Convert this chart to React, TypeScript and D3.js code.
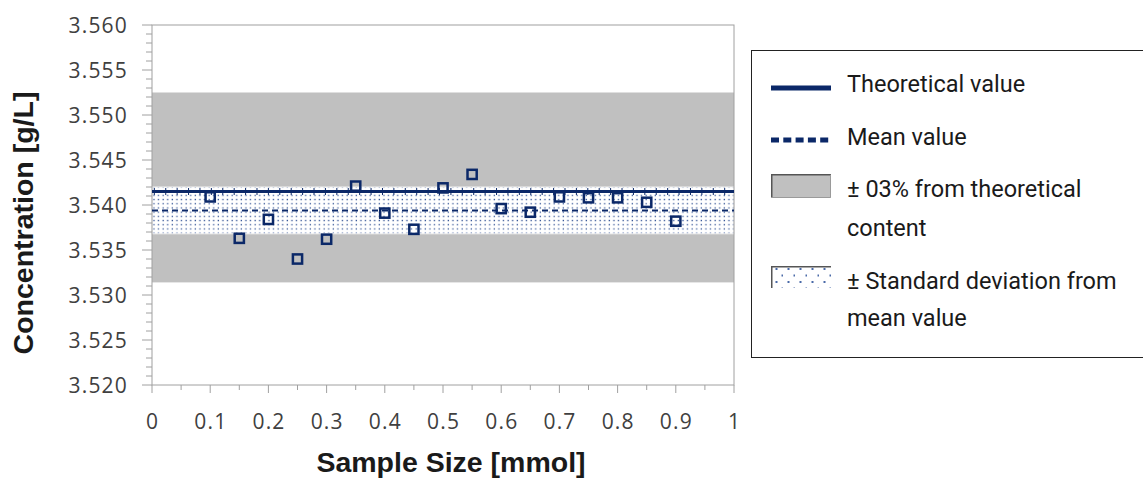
import React from "react";
import * as d3 from "d3";

// Measured sample sizes and the concentration found for each
const sampleSize = [0.1, 0.15, 0.2, 0.25, 0.3, 0.35, 0.4, 0.45, 0.5, 0.55, 0.6, 0.65, 0.7, 0.75, 0.8, 0.85, 0.9];
const concentration = [
  3.5409, 3.5363, 3.5384, 3.534, 3.5362, 3.5421, 3.5391, 3.5373, 3.5419,
  3.5434, 3.5396, 3.5392, 3.5409, 3.5408, 3.5408, 3.5403, 3.5382,
];

// Reference lines and bands [g/L]
const theoreticalValue = 3.5415;
const toleranceBand = [3.5314, 3.5525];
const meanValue = 3.5394;
const sdBand = [3.5368, 3.542];

const xTickValues = [0, 0.1, 0.2, 0.3, 0.4, 0.5, 0.6, 0.7, 0.8, 0.9, 1];
const xTickLabels = ["0", "0.1", "0.2", "0.3", "0.4", "0.5", "0.6", "0.7", "0.8", "0.9", "1"];
const yTickValues = [3.52, 3.525, 3.53, 3.535, 3.54, 3.545, 3.55, 3.555, 3.56];
const yTickLabels = ["3.520", "3.525", "3.530", "3.535", "3.540", "3.545", "3.550", "3.555", "3.560"];

const legendItems = [
  { kind: "solid", lines: ["Theoretical value"] },
  { kind: "dashed", lines: ["Mean value"] },
  { kind: "gray", lines: ["\u00b1 03% from theoretical", "content"] },
  { kind: "dotted", lines: ["\u00b1 Standard deviation from", "mean value"] },
];

const NAVY = "#0b2868";
const AXIS = "#a0a0a0";
const BAND = "#c0c0c0";

export default function App() {
  const W = 1143;
  const H = 479;
  const left = 152;
  const right = 734;
  const top = 25;
  const bottom = 385;

  const x = d3.scaleLinear().domain([0, 1]).range([left, right]);
  const y = d3.scaleLinear().domain([3.52, 3.56]).range([bottom, top]);

  const xMinor = d3.range(0, 1.0001, 0.05);
  const yMinor = d3.range(3.52, 3.56001, 0.001);
  const theoTicks = d3.range(0.004, 1, 0.0196);

  const tickFont = { fontFamily: "'Open Sans', sans-serif", fontSize: 21, fill: "#404040", letterSpacing: 1.2 };
  const legendFont = { fontFamily: "Roboto, sans-serif", fontSize: 23.5, fill: "#1a1a1a" };

  const legendX = 771;
  const legendRows = [88, 140, 186, 277];
  const legendBaselines = [[92], [145], [197, 236], [289, 326]];

  return (
    <svg width={W} height={H} style={{ position: "absolute", left: 0, top: 0, background: "#fff" }}>
      <defs>
        <pattern id="sdDots" width={4.6} height={4.2} patternUnits="userSpaceOnUse">
          <rect width={4.6} height={4.2} fill="#fff" />
          <rect x={1.5} y={1.5} width={1.3} height={1.3} fill="#3b5a9a" />
        </pattern>
        <pattern id="sdDotsLegend" width={12} height={13} patternUnits="userSpaceOnUse" x={legendX} y={266}>
          <rect width={12} height={13} fill="#fff" />
          <rect x={4.5} y={2} width={2} height={2} fill="#4a6aa8" />
          <rect x={10.5} y={8.5} width={2} height={2} fill="#4a6aa8" />
        </pattern>
      </defs>

      {/* tolerance band around the theoretical content */}
      <rect
        x={left}
        y={y(toleranceBand[1])}
        width={right - left}
        height={y(toleranceBand[0]) - y(toleranceBand[1])}
        fill={BAND}
      />
      {/* standard deviation band around the mean */}
      <rect
        x={left}
        y={y(sdBand[1])}
        width={right - left}
        height={y(sdBand[0]) - y(sdBand[1])}
        fill="url(#sdDots)"
        stroke="#f2f2f2"
        strokeWidth={1}
      />

      {/* plot frame */}
      <rect x={left} y={top} width={right - left} height={bottom - top} fill="none" stroke={AXIS} strokeWidth={1} />

      {/* y axis ticks */}
      {yMinor.map((v, i) => (
        <line key={"ym" + i} x1={left - (i % 5 === 0 ? 10 : 6)} x2={left} y1={y(v)} y2={y(v)} stroke={AXIS} />
      ))}
      {yTickValues.map((v, i) => (
        <text key={"yl" + i} x={left - 24} y={y(v)} dy="0.36em" textAnchor="end" {...tickFont}>
          {yTickLabels[i]}
        </text>
      ))}

      {/* x axis ticks */}
      {xMinor.map((v, i) => (
        <line key={"xm" + i} x1={x(v)} x2={x(v)} y1={bottom} y2={bottom + (i % 2 === 0 ? 8 : 5)} stroke={AXIS} />
      ))}
      {xTickValues.map((v, i) => (
        <text key={"xl" + i} x={x(v) + 0.6} y={429} textAnchor="middle" {...tickFont}>
          {xTickLabels[i]}
        </text>
      ))}

      {/* theoretical value line */}
      <line x1={left} x2={right} y1={y(theoreticalValue)} y2={y(theoreticalValue)} stroke={NAVY} strokeWidth={3} />
      {theoTicks.map((v, i) => (
        <line
          key={"tt" + i}
          x1={x(v)}
          x2={x(v)}
          y1={y(theoreticalValue) - 3.5}
          y2={y(theoreticalValue) + 3.5}
          stroke={NAVY}
          strokeWidth={1}
        />
      ))}

      {/* mean value line */}
      <line
        x1={left}
        x2={right}
        y1={y(meanValue)}
        y2={y(meanValue)}
        stroke={NAVY}
        strokeWidth={2}
        strokeDasharray="6 4"
      />

      {/* measurements */}
      {sampleSize.map((s, i) => (
        <rect
          key={"p" + i}
          x={x(s) - 4.6}
          y={y(concentration[i]) - 4.6}
          width={9.2}
          height={9.2}
          fill="none"
          stroke={NAVY}
          strokeWidth={2.5}
        />
      ))}

      {/* axis titles */}
      <text
        x={451}
        y={472}
        textAnchor="middle"
        fontFamily="'Liberation Sans', Arial, sans-serif"
        fontWeight="bold"
        fontSize={28.5}
        fill="#1a1a1a"
      >
        Sample Size [mmol]
      </text>
      <text
        transform="translate(33,223) rotate(-90)"
        textAnchor="middle"
        fontFamily="'Liberation Sans', Arial, sans-serif"
        fontWeight="bold"
        fontSize={28.5}
        fill="#1a1a1a"
      >
        Concentration [g/L]
      </text>

      {/* legend */}
      <rect x={751.5} y={50.5} width={420} height={307} fill="#fff" stroke="#222" strokeWidth={1} />
      {legendItems.map((item, i) => {
        const cy = legendRows[i];
        let symbol: React.ReactNode = null;
        if (item.kind === "solid") {
          symbol = <line x1={legendX} x2={legendX + 60} y1={cy} y2={cy} stroke={NAVY} strokeWidth={5} />;
        } else if (item.kind === "dashed") {
          symbol = (
            <line x1={legendX} x2={legendX + 60} y1={cy} y2={cy} stroke={NAVY} strokeWidth={5} strokeDasharray="8 4.3" />
          );
        } else if (item.kind === "gray") {
          symbol = (
            <g>
              <rect x={legendX} y={174} width={60} height={24} fill={BAND} />
              <path d={`M${legendX + 0.75},198 V174.75 H${legendX + 60}`} fill="none" stroke="#555" strokeWidth={1.5} />
              <path d={`M${legendX},197.5 H${legendX + 59.5} V174.75`} fill="none" stroke="#9a9a9a" strokeWidth={1} />
            </g>
          );
        } else {
          symbol = (
            <g>
              <rect x={legendX} y={266} width={60} height={22} fill="url(#sdDotsLegend)" />
              <path d={`M${legendX + 0.75},288 V266.75 H${legendX + 60}`} fill="none" stroke="#555" strokeWidth={1.5} />
            </g>
          );
        }
        return (
          <g key={"lg" + i}>
            {symbol}
            {item.lines.map((t, j) => (
              <text key={j} x={847} y={legendBaselines[i][j]} {...legendFont}>
                {t}
              </text>
            ))}
          </g>
        );
      })}
    </svg>
  );
}
